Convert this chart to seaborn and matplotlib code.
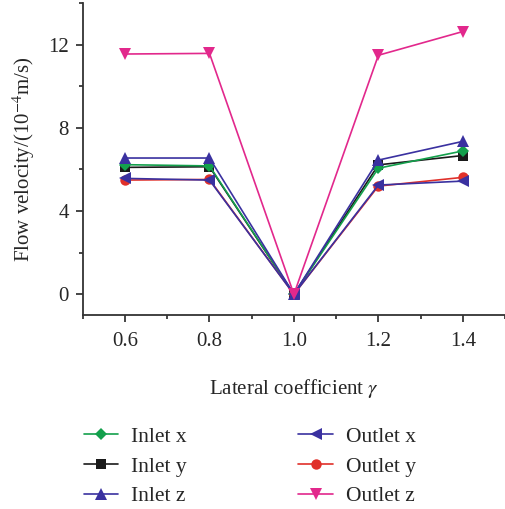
import numpy as np
import pandas as pd
import seaborn as sns
import matplotlib
matplotlib.use("Agg")
import matplotlib.pyplot as plt
from matplotlib.ticker import MultipleLocator

gamma = [0.6, 0.8, 1.0, 1.2, 1.4]
inlet_x = [6.23, 6.17, 0.0, 6.06, 6.89]
inlet_y = [6.10, 6.13, 0.0, 6.22, 6.67]
inlet_z = [6.55, 6.55, 0.0, 6.45, 7.35]
outlet_x = [5.57, 5.49, 0.0, 5.25, 5.44]
outlet_y = [5.49, 5.52, 0.0, 5.20, 5.62]
outlet_z = [11.55, 11.58, 0.0, 11.49, 12.63]

series = {
    "Inlet x": inlet_x, "Inlet y": inlet_y, "Inlet z": inlet_z,
    "Outlet x": outlet_x, "Outlet y": outlet_y, "Outlet z": outlet_z,
}
colors = {"Inlet x": "#13a04c", "Inlet y": "#1a1a1a", "Inlet z": "#3a31a0",
          "Outlet x": "#3a31a0", "Outlet y": "#e0302a", "Outlet z": "#e2288c"}
markers = {"Inlet x": "D", "Inlet y": "s", "Inlet z": "^",
           "Outlet x": "<", "Outlet y": "o", "Outlet z": "v"}
msizes = {"Inlet x": 6.5, "Inlet y": 6.5, "Inlet z": 8.5, "Outlet x": 8.5, "Outlet y": 7.5, "Outlet z": 8.5}

rows = []
for name, vals in series.items():
    for g, v in zip(gamma, vals):
        rows.append({"gamma": g, "velocity": v, "series": name})
df = pd.DataFrame(rows)

sns.set_style("ticks")
plt.rcParams["font.family"] = ["Liberation Serif", "DejaVu Serif"]
plt.rcParams["mathtext.fontset"] = "stix"

fig = plt.figure(figsize=(5.05, 5.09), dpi=100)
ax = fig.add_axes([0.164, 0.381, 0.836, 0.613])

draw_order = ["Inlet y", "Inlet x", "Outlet y", "Outlet x", "Inlet z", "Outlet z"]
handles = {}
for name in draw_order:
    sub = df[df["series"] == name]
    sns.lineplot(data=sub, x="gamma", y="velocity", ax=ax, color=colors[name],
                 marker=markers[name], markersize=msizes[name], markeredgewidth=0,
                 linewidth=1.2, label=name, legend=False)
    handles[name] = ax.lines[-1]

ax.set_xlim(0.5, 1.5)
ax.set_ylim(-1, 14)
ax.set_xticks(gamma)
ax.set_xticklabels([f"{g:.1f}" for g in gamma])
ax.set_yticks([0, 4, 8, 12])
ax.xaxis.set_minor_locator(MultipleLocator(0.1))
ax.yaxis.set_minor_locator(MultipleLocator(2))
ax.tick_params(axis="both", which="major", labelsize=15, length=5, width=1.2, direction="out")
ax.tick_params(axis="x", which="major", pad=7)
ax.tick_params(axis="y", which="major", pad=5)
ax.tick_params(axis="both", which="minor", length=3, width=1.2, direction="out")
for s in ["top", "right"]:
    ax.spines[s].set_visible(False)
for s in ["left", "bottom"]:
    ax.spines[s].set_linewidth(1.3)
    ax.spines[s].set_color("#333333")

ax.set_xlabel(r"Lateral coefficient $\gamma$", fontsize=15, labelpad=19)
ax.set_ylabel(r"Flow velocity/(10$^{-4}$m/s)", fontsize=15, labelpad=8)

order = ["Inlet x", "Inlet y", "Inlet z", "Outlet x", "Outlet y", "Outlet z"]
fig.legend([handles[n] for n in order], order, loc="lower left",
           bbox_to_anchor=(0.127, -0.033), ncol=2, frameon=False, fontsize=15.5,
           handlelength=1.6, columnspacing=5.2, labelspacing=0.45, handletextpad=0.6)

fig.savefig("out.png", dpi=100)
